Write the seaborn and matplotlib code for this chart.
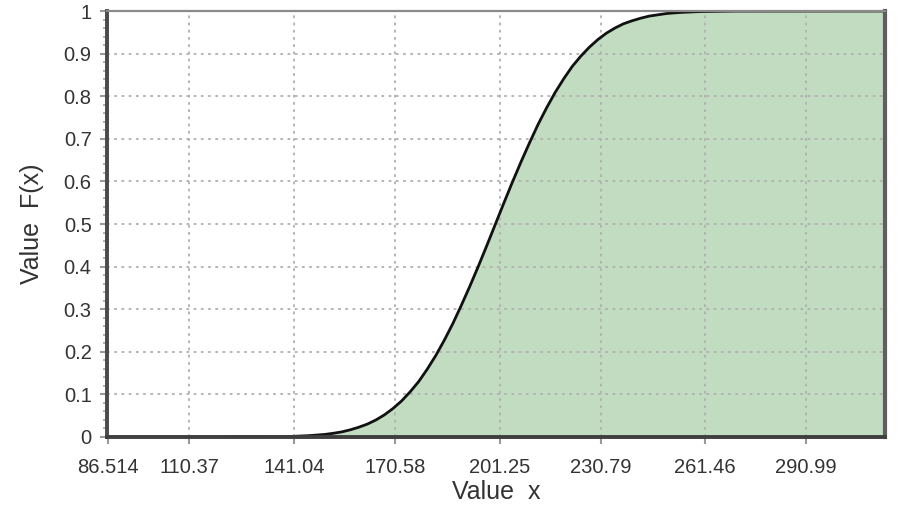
import matplotlib
matplotlib.use("Agg")
import matplotlib.pyplot as plt
from matplotlib.ticker import MultipleLocator
import seaborn as sns
import pandas as pd

# Cumulative distribution F(x), sampled along the value axis
x_values = [86.514, 120.0, 130.0, 140.0, 145.0, 147.5, 150.0, 152.5, 155.0, 157.5,
            160.0, 162.5, 165.0, 167.5, 170.0, 172.5, 175.0, 177.5, 180.0, 182.5,
            185.0, 187.5, 190.0, 192.5, 195.0, 197.5, 200.0, 202.5, 205.0, 207.5,
            210.0, 212.5, 215.0, 217.5, 220.0, 222.5, 225.0, 227.5, 230.0, 232.5,
            235.0, 237.5, 240.0, 242.5, 245.0, 247.5, 250.0, 252.5, 255.0, 260.0,
            270.0, 314.0]
f_values = [0.0, 0.0, 0.0002, 0.0013, 0.003, 0.0044, 0.006, 0.0087, 0.012, 0.0169,
            0.023, 0.0304, 0.040, 0.0521, 0.067, 0.0846, 0.106, 0.130, 0.159, 0.191,
            0.227, 0.266, 0.309, 0.354, 0.401, 0.450, 0.500, 0.550, 0.599, 0.646,
            0.691, 0.734, 0.773, 0.809, 0.841, 0.870, 0.894, 0.915, 0.933, 0.948,
            0.960, 0.970, 0.977, 0.983, 0.988, 0.991, 0.994, 0.9957, 0.997, 0.9987,
            0.9998, 1.0]

x_ticks = [86.514, 110.37, 141.04, 170.58, 201.25, 230.79, 261.46, 290.99]
x_tick_labels = ["86.514", "110.37", "141.04", "170.58", "201.25", "230.79", "261.46", "290.99"]
y_ticks = [0.0, 0.1, 0.2, 0.3, 0.4, 0.5, 0.6, 0.7, 0.8, 0.9, 1.0]
y_tick_labels = ["0", "0.1", "0.2", "0.3", "0.4", "0.5", "0.6", "0.7", "0.8", "0.9", "1"]

df = pd.DataFrame({"x": x_values, "F": f_values})

sns.set_theme(style="white")
plt.rcParams["font.family"] = ["Liberation Sans", "DejaVu Sans"]

fig = plt.figure(figsize=(8.99, 5.12), dpi=100)
ax = fig.add_axes([0.119, 0.1465, 0.865, 0.832])

ax.fill_between(df["x"], df["F"], 0, color="#c1dcc0", linewidth=0, zorder=1)
sns.lineplot(data=df, x="x", y="F", ax=ax, color="#111111", linewidth=2.0, zorder=4)

ax.set_xlim(86.2, 314.0)
ax.set_ylim(0, 1)

ax.set_xticks(x_ticks)
ax.set_xticklabels(x_tick_labels)
ax.set_yticks(y_ticks)
ax.set_yticklabels(y_tick_labels)
ax.yaxis.set_minor_locator(MultipleLocator(0.02))

ax.grid(True, which="major", color="#b0b0b0", linestyle=(0, (1.5, 2.5)), linewidth=1.3, zorder=2)
ax.set_axisbelow(False)

ax.tick_params(axis="both", which="major", direction="out", length=5, width=1.5,
               color="#9a9a9a", labelsize=14.5, labelcolor="#333333")
ax.tick_params(axis="x", which="major", pad=10)
ax.tick_params(axis="y", which="major", pad=6)
ax.tick_params(axis="y", which="minor", direction="out", length=3, width=1.2,
               color="#a5a5a5", left=True)
ax.tick_params(axis="x", which="minor", length=0)
ax.tick_params(left=True, bottom=True)

for side, (col, lw) in {"left": ("#4a4a4a", 2.8), "bottom": ("#3f3f3f", 2.8),
                        "top": ("#8a8a8a", 1.6), "right": ("#5e5e5e", 3.0)}.items():
    ax.spines[side].set_visible(True)
    ax.spines[side].set_color(col)
    ax.spines[side].set_linewidth(lw)
    ax.spines[side].set_zorder(5)

ax.set_xlabel("Value  x", fontsize=18, color="#333333", labelpad=2)
ax.set_ylabel("Value  F(x)", fontsize=18, color="#333333", labelpad=14)

fig.savefig("out.png", dpi=100)
